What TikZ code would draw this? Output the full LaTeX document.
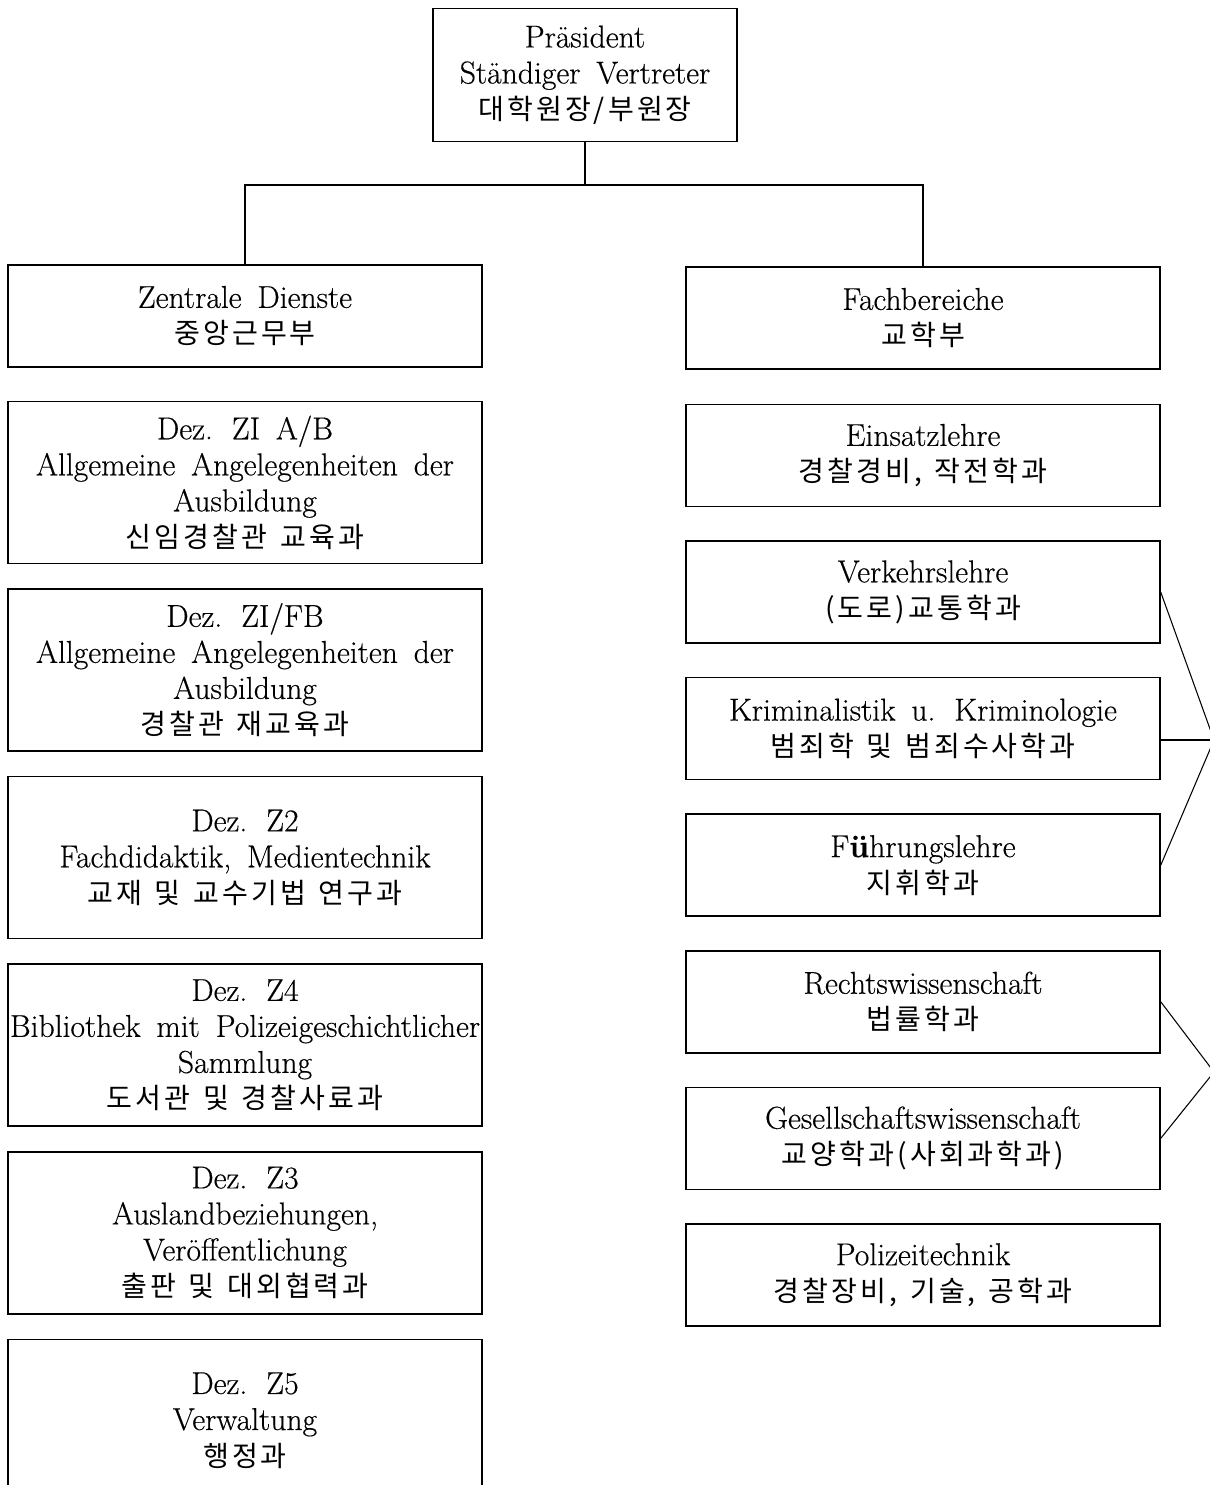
\documentclass[tikz,border=0pt]{standalone}
\usepackage{fontspec}
\setmainfont{Latin Modern Roman}[FakeBold=0.4]
\newfontfamily\kr{Noto Sans CJK KR}[LetterSpace=11]
\usepackage{tikz}
\usetikzlibrary{positioning}
\newcommand{\unitfont}{\fontsize{18}{20.5}\selectfont\spaceskip=0.5em plus 0.1em\relax}
\tikzstyle{unit}=[draw=black,line width=0.9pt,align=center,inner xsep=1pt,
  font=\unitfont,minimum width=9.48cm]
\tikzstyle{dez}=[unit,minimum height=3.24cm]
\tikzstyle{fach}=[unit,minimum height=2.04cm]
\tikzstyle{link}=[line width=0.6pt]
\newcommand{\ko}[1]{{\kr\fontsize{16}{20.5}\selectfont\spaceskip=0.45em\relax #1}}

\begin{document}
\begin{tikzpicture}[x=0.02cm,y=-0.02cm]
    \useasboundingbox (0,0) rectangle (1210,1485);

    \node[unit, minimum width=6.08cm, minimum height=2.66cm] (top) at (585,75)
        {Präsident\\Ständiger Vertreter\\\ko{대학원장/부원장}};

    % left column
    \node[fach] (zd) at (245,316) {Zentrale Dienste\\\ko{중앙근무부}};
    \node[dez, below=0.66cm of zd] (zia) {Dez. ZI A/B\\Allgemeine Angelegenheiten der\\Ausbildung\\\ko{신임경찰관 교육과}};
    \node[dez, below=0.48cm of zia] (zifb) {Dez. ZI/FB\\Allgemeine Angelegenheiten der\\Ausbildung\\\ko{경찰관 재교육과}};
    \node[dez, below=0.48cm of zifb] (ztwo) {Dez. Z2\\Fachdidaktik, Medientechnik\\\ko{교재 및 교수기법 연구과}};
    \node[dez, below=0.48cm of ztwo] (zfour) {Dez. Z4\\Bibliothek mit Polizeigeschichtlicher\\Sammlung\\\ko{도서관 및 경찰사료과}};
    \node[dez, below=0.48cm of zfour] (zthree) {Dez. Z3\\Auslandbeziehungen,\\Veröffentlichung\\\ko{출판 및 대외협력과}};
    \node[dez, below=0.48cm of zthree] (zfive) {Dez. Z5\\Verwaltung\\\ko{행정과}};

    % right column
    \node[fach] (fb) at (923,318) {Fachbereiche\\\ko{교학부}};
    \node[fach, below=0.68cm of fb] (el) {Einsatzlehre\\\ko{경찰경비, 작전학과}};
    \node[fach, below=0.66cm of el] (vl) {Verkehrslehre\\\ko{(도로)교통학과}};
    \node[fach, below=0.66cm of vl] (kk) {Kriminalistik u. Kriminologie\\\ko{범죄학 및 범죄수사학과}};
    \node[fach, below=0.66cm of kk] (fl) {F\textbf{ü}hrungslehre\\\ko{지휘학과}};
    \node[fach, below=0.66cm of fl] (rw) {Rechtswissenschaft\\\ko{법률학과}};
    \node[fach, below=0.66cm of rw] (gw) {Gesellschaftswissenschaft\\\ko{교양학과(사회과학과)}};
    \node[fach, below=0.66cm of gw] (pt) {Polizeitechnik\\\ko{경찰장비, 기술, 공학과}};

    % tree
    \coordinate (split) at (585,185);
    \draw[link] (top) -- (split);
    \draw[link] (split) -| (zd);
    \draw[link] (split) -| (fb);

    % brackets on the right
    \coordinate (tipa) at (1214,740);
    \coordinate (tipb) at (1214,1072);
    \draw[link] (vl.east) -- (tipa);
    \draw[link] (kk.east |- tipa) -- (tipa);
    \draw[link] (fl.east) -- (tipa);
    \draw[link] (rw.east) -- (tipb);
    \draw[link] (gw.east) -- (tipb);
\end{tikzpicture}
\end{document}
